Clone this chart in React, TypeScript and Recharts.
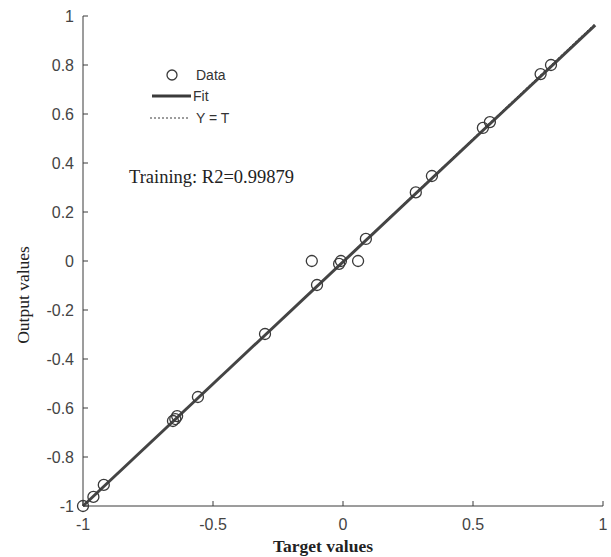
import React from 'react';
import {
  ComposedChart, Scatter, Line, XAxis, YAxis, Label
} from 'recharts';

// target / output pairs
const targets = [-1, -0.96, -0.92, -0.654, -0.645, -0.638, -0.558, -0.3, -0.12, -0.1, -0.015, -0.008, 0.058, 0.088, 0.28, 0.342, 0.538, 0.565, 0.76, 0.8];
const outputs = [-1, -0.963, -0.914, -0.653, -0.645, -0.633, -0.555, -0.298, 0, -0.098, -0.012, 0, 0, 0.09, 0.28, 0.347, 0.543, 0.567, 0.763, 0.8];

// fit line and Y = T ends
const fitX = [-1, 0.97];
const fitY = [-1, 0.963];
const identityX = [-1, 0.97];

const xTicks = [-1, -0.5, 0, 0.5, 1];
const yTicks = [-1, -0.8, -0.6, -0.4, -0.2, 0, 0.2, 0.4, 0.6, 0.8, 1];

const R2 = '0.99879';

const scatterData = targets.map((t, i) => ({ x: t, y: outputs[i] }));
const fitData = fitX.map((x, i) => ({ x, y: fitY[i] }));
const identityData = identityX.map(x => ({ x, y: x }));

const INK = '#3a3a3a';
const sans = '"Liberation Sans", Arial, sans-serif';
const tickStyle = { fontSize: 16, fill: '#444', fontFamily: sans };
const serif = '"Liberation Serif", "Times New Roman", serif';

const Ring = (props: any) => {
  const { cx, cy } = props;
  if (cx == null || cy == null) return null;
  return <circle cx={cx} cy={cy} r={5.5} fill="none" stroke={INK} strokeWidth={1.3} />;
};

const LegendBox = () => (
  <svg width={110} height={70} style={{ position: 'absolute', left: 150, top: 64 }}>
    <circle cx={22} cy={11} r={5} fill="none" stroke={INK} strokeWidth={1.3} />
    <text x={46} y={16} fontSize={14} fill="#333" fontFamily={sans}>Data</text>
    <line x1={2} y1={32} x2={41} y2={32} stroke={INK} strokeWidth={3} />
    <text x={43} y={37} fontSize={14} fill="#333" fontFamily={sans}>Fit</text>
    <line x1={0} y1={54} x2={39} y2={54} stroke={INK} strokeWidth={1} strokeDasharray="2 2" />
    <text x={46} y={59} fontSize={14} fill="#333" fontFamily={sans}>Y = T</text>
  </svg>
);

export default function App() {
  return (
    <div style={{ position: 'absolute', left: 0, top: 0, width: 611, height: 557, background: '#fff' }}>
      <ComposedChart width={611} height={557} margin={{ top: 16, right: 8, bottom: 21, left: 23 }}>
        <XAxis
          dataKey="x"
          type="number"
          domain={[-1, 1]}
          ticks={xTicks}
          tickFormatter={(v: number) => String(v)}
          stroke={INK}
          tickSize={-5}
          tickMargin={18}
          height={30}
          tick={tickStyle}
        >
          <Label
            content={(p: any) => {
              const vb = p.viewBox || {};
              return (
                <text x={323} y={vb.y + 46} textAnchor="middle" fontSize={17.5} fontWeight={600} fill="#222" fontFamily={serif}>
                  Target values
                </text>
              );
            }}
          />
        </XAxis>
        <YAxis
          dataKey="y"
          type="number"
          domain={[-1, 1]}
          ticks={yTicks}
          tickFormatter={(v: number) => String(v)}
          stroke={INK}
          tickSize={-5}
          tickMargin={14}
          width={60}
          tick={tickStyle}
        >
          <Label
            content={() => {
              const cx = 29;
              const cy = 295;
              return (
                <text x={cx} y={cy} transform={`rotate(-90 ${cx} ${cy})`} textAnchor="middle" fontSize={17.5} fill="#222" fontFamily={serif}>
                  Output values
                </text>
              );
            }}
          />
        </YAxis>
        <Line data={identityData} dataKey="y" stroke={INK} strokeWidth={1} strokeDasharray="2 2" dot={false} isAnimationActive={false} />
        <Line data={fitData} dataKey="y" stroke="#444" strokeWidth={3} dot={false} isAnimationActive={false} />
        <Scatter data={scatterData} dataKey="y" shape={<Ring />} isAnimationActive={false} />
      </ComposedChart>
      <LegendBox />
      <div style={{ position: 'absolute', left: 129, top: 167, fontFamily: serif, fontSize: 18.5, color: '#222', whiteSpace: 'nowrap' }}>
        Training: R2={R2}
      </div>
    </div>
  );
}
